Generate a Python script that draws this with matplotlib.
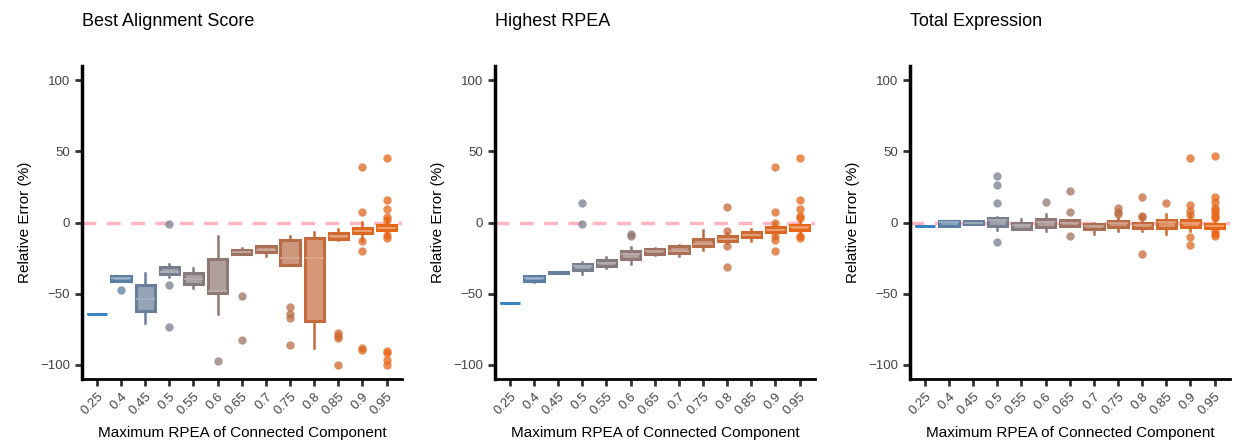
import numpy as np
import matplotlib
matplotlib.use("Agg")
import matplotlib.pyplot as plt
from matplotlib.colors import to_rgb

plt.rcParams['font.family'] = ['Liberation Sans', 'DejaVu Sans']

# categories on the x axis
rpea = ["0.25", "0.4", "0.45", "0.5", "0.55", "0.6", "0.65", "0.7", "0.75", "0.8", "0.85", "0.9", "0.95"]

# box colours, blue -> orange
colors = ["#3a84c4", "#5b7fa3", "#6a7e99", "#787e8e", "#857a7c", "#907874", "#9e7262",
          "#aa6f55", "#b86c46", "#c46a3b", "#d0692e", "#dc6822", "#e86618"]

titles = ["Best Alignment Score", "Highest RPEA", "Total Expression"]

# --- Best Alignment Score (box stats)
bas_q1 = [-64, -40.9, -62.4, -36.2, -43.2, -49.8, -22.4, -21.0, -29.9, -68.9, -11.4, -7.7, -5.4]
bas_med = [-64, -39.3, -53.5, -34.8, -39.5, -48.4, -20.8, -19.2, -25.0, -25.0, -9.3, -5.8, -3.7]
bas_q3 = [-64, -37.9, -44.2, -31.3, -35.5, -25.7, -19.2, -16.8, -12.6, -11.2, -7.2, -4.0, -1.9]
bas_lo = [-64, -40.9, -70.6, -38.3, -46.0, -64.3, -22.4, -23.8, -29.9, -88.3, -12.6, -12.9, -9.8]
bas_hi = [-64, -37.9, -35.5, -29.0, -32.0, -9.8, -18.0, -16.8, -9.8, -6.8, -4.7, 0.5, 1.9]
bas_out = [[], [-47.4], [], [-1.2, -43.9, -73.1], [], [-97.2], [-51.4, -82.7], [],
           [-59.3, -64.0, -67.0, -86.2], [], [-77.6, -80.0, -81.5, -100.0],
           [39.3, 7.2, -13.0, -20.1, -88.0, -89.7],
           [45.6, 15.9, 9.8, 4.2, 1.9, -9.1, -11.0, -90.4, -91.6, -96.3, -100.0]]

# --- Highest RPEA
hr_q1 = [-56.8, -40.9, -35.5, -33.4, -30.8, -25.7, -22.2, -21.5, -16.8, -13.1, -10.5, -7.0, -5.1]
hr_med = [-56.8, -39.3, -35.0, -30.8, -28.5, -22.2, -20.3, -19.9, -15.2, -11.4, -8.6, -5.1, -3.3]
hr_q3 = [-56.8, -37.6, -34.5, -29.4, -26.2, -20.0, -18.7, -16.6, -11.7, -9.8, -7.0, -3.5, -1.9]
hr_lo = [-56.8, -42.0, -35.5, -36.4, -32.2, -29.4, -22.8, -23.8, -19.6, -14.5, -13.3, -9.3, -9.3]
hr_hi = [-56.8, -37.6, -34.5, -27.8, -24.3, -17.3, -17.9, -16.0, -5.6, -7.5, -4.4, 0.0, 1.4]
hr_out = [[], [], [], [14.0, -1.4], [], [-7.9, -9.8], [], [], [],
          [11.2, -6.3, -16.4, -31.1], [],
          [39.3, 7.2, 0.0, -9.8, -12.1, -20.3],
          [45.6, 15.9, 9.8, 4.7, 3.0, -9.8, -11.2]]

# --- Total Expression
te_q1 = [-2.8, -2.6, -1.4, -2.6, -4.7, -3.3, -2.3, -4.9, -3.3, -4.0, -3.7, -3.0, -4.0]
te_med = [-2.8, 0.2, 0.0, 1.6, -1.9, 0.7, 0.0, -2.3, -0.5, -1.9, 0.2, -0.5, -2.3]
te_q3 = [-2.8, 1.4, 1.2, 3.0, -0.5, 2.3, 1.9, -0.9, 1.4, 0.0, 1.9, 1.6, -0.9]
te_lo = [-2.8, -2.6, -1.4, -5.4, -4.7, -6.3, -2.3, -7.9, -6.3, -6.3, -7.9, -6.3, -7.0]
te_hi = [-2.8, 1.4, 1.2, 4.0, 2.3, 6.0, 1.9, 0.0, 3.0, 3.0, 6.0, 4.7, 1.9]
te_out = [[], [], [], [33.0, 26.4, 14.0, -13.6], [], [14.7], [22.2, 7.2, -9.8], [],
          [10.0, 7.7, 6.0], [18.0, 4.7, 4.2, -22.2], [14.0],
          [45.1, 12.1, 8.2, 5.4, -10.3, -15.7],
          [46.7, 18.2, 14.5, 10.5, 8.9, 7.0, 4.7, 3.0, -6.3, -7.9, -9.8]]

panels = [(bas_q1, bas_med, bas_q3, bas_lo, bas_hi, bas_out),
          (hr_q1, hr_med, hr_q3, hr_lo, hr_hi, hr_out),
          (te_q1, te_med, te_q3, te_lo, te_hi, te_out)]


def lighten(c, f):
    r = np.array(to_rgb(c))
    return tuple(r + (1 - r) * f)


fig = plt.figure(figsize=(12.36, 4.44), dpi=100)
lefts = [82, 495, 910]
for i, (q1, med, q3, lo, hi, out) in enumerate(panels):
    ax = fig.add_axes([lefts[i] / 1236, 1 - 379 / 444, 320 / 1236, 313 / 444])
    ax.axhline(0, color="#ffb6c1", lw=2.5, ls=(0, (4, 3)), zorder=1)
    for j in range(len(rpea)):
        st = dict(q1=q1[j], med=med[j], q3=q3[j], whislo=lo[j], whishi=hi[j], fliers=out[j])
        c = colors[j]
        # flat boxes: keep the median the same colour so the bar reads solid
        mc = c if q3[j] - q1[j] < 1.5 else lighten(c, 0.4)
        ax.bxp([st], positions=[j], widths=0.8, patch_artist=True, showcaps=False,
               boxprops=dict(facecolor=lighten(c, 0.22) + (0.9,), edgecolor=c, linewidth=2.2),
               whiskerprops=dict(color=c, linewidth=1.8),
               medianprops=dict(color=mc, linewidth=1.2),
               flierprops=dict(marker="o", markerfacecolor=c, markeredgecolor="none",
                               markersize=6, alpha=0.75),
               zorder=2)
    ax.set_xlim(-0.62, 12.64)
    ax.set_ylim(-110, 110)
    ax.set_yticks([-100, -50, 0, 50, 100])
    ax.set_yticklabels(["\u2212100", "\u221250", "0", "50", "100"])
    ax.set_xticks(range(len(rpea)))
    ax.set_xticklabels(rpea, rotation=45, ha="right", rotation_mode="anchor")
    ax.spines["top"].set_visible(False)
    ax.spines["right"].set_visible(False)
    ax.spines["left"].set_linewidth(2.5)
    ax.spines["bottom"].set_linewidth(2)
    ax.tick_params(axis="both", length=5, width=2, color="#333333",
                   labelsize=9.5, labelcolor="#444444")
    ax.set_ylabel("Relative Error (%)", fontsize=11, labelpad=6)
    ax.set_xlabel("Maximum RPEA of Connected Component", fontsize=11, labelpad=6)
    ax.set_title(titles[i], loc="left", fontsize=13, pad=29)

fig.savefig("out.png", dpi=100)
